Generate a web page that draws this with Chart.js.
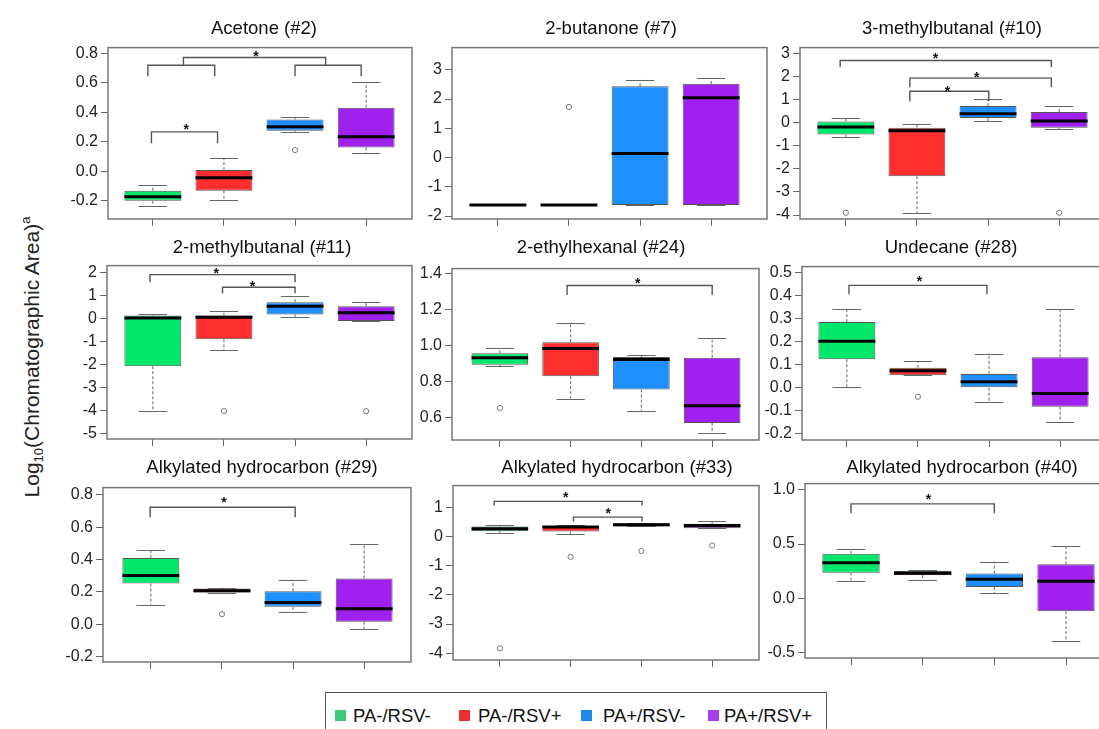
<!DOCTYPE html>
<html>
<head>
<meta charset="utf-8">
<script src="https://cdn.jsdelivr.net/npm/chart.js@4.4.0/dist/chart.umd.min.js"></script>
<style>
  body { margin: 0; width: 1099px; height: 729px; overflow: hidden; background: #fff; position: relative;
         font-family: Arial, "Liberation Sans", sans-serif; color: #111; }
  canvas { position: absolute; }
  .title { position: absolute; font-size: 18.5px; white-space: nowrap; transform: translate(-50%, -50%); }
  .ylab { position: absolute; left: 32px; top: 357px; font-size: 21px; white-space: nowrap;
          transform: translate(-50%, -50%) rotate(-90deg); color: #222; }
  .ylab sub { font-size: 13px; vertical-align: -4px; }
  .ylab sup { font-size: 13px; vertical-align: 9px; }
  .legend { position: absolute; left: 325px; top: 692px; width: 502px; height: 50px; border: 1px solid #555; box-sizing: border-box; }
  .sw { position: absolute; top: 17px; width: 11px; height: 11px; }
  .lt { position: absolute; top: 12px; font-size: 18.5px; line-height: 22px; white-space: nowrap; color: #111; }
</style>
</head>
<body>
<div class="ylab">Log<sub>10</sub>(Chromatographic Area)<sup>a</sup></div>
<div class="legend" id="legend"></div>
<script>
Chart.defaults.font.family = 'Arial, "Liberation Sans", sans-serif';

const groups = ['PA-/RSV-', 'PA-/RSV+', 'PA+/RSV-', 'PA+/RSV+'];
const titles = ['Acetone (#2)', '2-butanone (#7)', '3-methylbutanal (#10)',
  '2-methylbutanal (#11)', '2-ethylhexanal (#24)', 'Undecane (#28)',
  'Alkylated hydrocarbon (#29)', 'Alkylated hydrocarbon (#33)', 'Alkylated hydrocarbon (#40)'];

// per group: [lower whisker, Q1, median, Q3, upper whisker]
const acetone = [[-0.234, -0.200, -0.173, -0.132, -0.094], [-0.195, -0.132, -0.044, 0.008, 0.087],
  [0.268, 0.275, 0.302, 0.352, 0.370], [0.121, 0.162, 0.234, 0.431, 0.608]];
const butanone = [[-1.625, -1.625, -1.625, -1.625, -1.625], [-1.625, -1.625, -1.625, -1.625, -1.625],
  [-1.625, -1.625, 0.14, 2.44, 2.66], [-1.625, -1.625, 2.045, 2.52, 2.72]];
const methylbutanal3 = [[-0.62, -0.52, -0.19, 0.05, 0.21], [-3.9, -2.32, -0.36, -0.22, -0.08],
  [0.05, 0.20, 0.38, 0.71, 1.03], [-0.29, -0.23, 0.07, 0.46, 0.71]];
const methylbutanal2 = [[-4.03, -2.08, 0.01, 0.12, 0.17], [-1.39, -0.91, 0.05, 0.12, 0.30],
  [0.05, 0.17, 0.53, 0.70, 0.95], [-0.12, -0.12, 0.24, 0.53, 0.73]];
const ethylhexanal = [[0.886, 0.893, 0.932, 0.957, 0.985], [0.705, 0.829, 0.982, 1.018, 1.124],
  [0.637, 0.755, 0.921, 0.935, 0.945], [0.515, 0.570, 0.665, 0.932, 1.042]];
const undecane = [[0.004, 0.123, 0.201, 0.284, 0.339], [0.054, 0.054, 0.073, 0.086, 0.115],
  [-0.061, 0.0, 0.026, 0.060, 0.148], [-0.147, -0.082, -0.025, 0.132, 0.342]];
const hydrocarbon29 = [[0.122, 0.252, 0.301, 0.410, 0.457], [0.196, 0.196, 0.207, 0.221, 0.227],
  [0.073, 0.108, 0.135, 0.205, 0.276], [-0.032, 0.016, 0.096, 0.283, 0.494]];
const hydrocarbon33 = [[0.11, 0.18, 0.26, 0.34, 0.40], [0.09, 0.17, 0.32, 0.35, 0.375],
  [0.34, 0.34, 0.40, 0.45, 0.47], [0.28, 0.28, 0.375, 0.43, 0.52]];
const hydrocarbon40 = [[0.16, 0.236, 0.328, 0.41, 0.457], [0.166, 0.212, 0.23, 0.25, 0.26],
  [0.049, 0.104, 0.175, 0.227, 0.337], [-0.396, -0.12, 0.156, 0.313, 0.482]];

// outliers: [group position, value]
const acetoneOut = [[3, 0.144]];
const butanoneOut = [[2, 1.73]];
const methylbutanal3Out = [[1, -3.9], [4, -3.9]];
const methylbutanal2Out = [[2, -4.03], [4, -4.03]];
const ethylhexanalOut = [[1, 0.653]];
const undecaneOut = [[2, -0.039]];
const hydrocarbon29Out = [[2, 0.063]];
const hydrocarbon33Out = [[1, -3.83], [2, -0.70], [3, -0.50], [4, -0.31]];
const hydrocarbon40Out = [];

// significance brackets: [x from, x to, line y, end y, star x, star y]
const acetoneSig = [[0.93, 1.87, 0.72, 0.645], [3.0, 3.93, 0.72, 0.645],
  [1.43, 3.43, 0.773, 0.716, 2.45, 0.805], [0.98, 1.91, 0.268, 0.19, 1.47, 0.31]];
const butanoneSig = [];
const methylbutanal3Sig = [[0.92, 3.89, 2.68, 2.40, 2.26, 2.93], [1.90, 3.89, 1.92, 1.53, 2.84, 2.11],
  [1.90, 3.01, 1.35, 0.92, 2.43, 1.5]];
const methylbutanal2Sig = [[0.96, 3.0, 1.90, 1.57, 1.89, 2.1], [1.98, 3.0, 1.35, 1.09, 2.40, 1.54]];
const ethylhexanalSig = [[1.95, 4.0, 1.332, 1.28, 2.95, 1.365]];
const undecaneSig = [[1.03, 2.97, 0.443, 0.404, 2.02, 0.476]];
const hydrocarbon29Sig = [[0.99, 3.03, 0.724, 0.662, 2.03, 0.775]];
const hydrocarbon33Sig = [[0.92, 3.01, 1.20, 1.06, 1.93, 1.45], [2.04, 3.01, 0.66, 0.51, 2.53, 0.92]];
const hydrocarbon40Sig = [[1.0, 3.0, 0.871, 0.785, 2.08, 0.948]];

// y tick labels per panel
const tickLabels = [
  ['0.8', '0.6', '0.4', '0.2', '0.0', '-0.2'],
  ['3', '2', '1', '0', '-1', '-2'],
  ['3', '2', '1', '0', '-1', '-2', '-3', '-4'],
  ['2', '1', '0', '-1', '-2', '-3', '-4', '-5'],
  ['1.4', '1.2', '1.0', '0.8', '0.6'],
  ['0.5', '0.4', '0.3', '0.2', '0.1', '0.0', '-0.1', '-0.2'],
  ['0.8', '0.6', '0.4', '0.2', '0.0', '-0.2'],
  ['1', '0', '-1', '-2', '-3', '-4'],
  ['1.0', '0.5', '0.0', '-0.5']
];
const yRanges = [[-0.324, 0.84], [-2.10, 3.76], [-4.17, 3.24], [-5.24, 2.29], [0.475, 1.426],
  [-0.226, 0.524], [-0.233, 0.845], [-4.23, 1.74], [-0.552, 1.058]];

const stats = [acetone, butanone, methylbutanal3, methylbutanal2, ethylhexanal, undecane, hydrocarbon29, hydrocarbon33, hydrocarbon40];
const outs = [acetoneOut, butanoneOut, methylbutanal3Out, methylbutanal2Out, ethylhexanalOut, undecaneOut, hydrocarbon29Out, hydrocarbon33Out, hydrocarbon40Out];
const sigs = [acetoneSig, butanoneSig, methylbutanal3Sig, methylbutanal2Sig, ethylhexanalSig, undecaneSig, hydrocarbon29Sig, hydrocarbon33Sig, hydrocarbon40Sig];

// layout: plot frame [left, top, right, bottom, px of group 1, px of group 4]
const frames = [
  [108, 47, 413, 219, 153, 367], [452, 47, 768, 219, 498, 712], [800, 47, 1106, 219, 846, 1060],
  [107, 265, 413, 439, 153, 367], [452, 268, 760, 440, 500, 713], [802, 266, 1107, 440, 847, 1061],
  [103, 487, 412, 662, 151, 365], [453, 485, 760, 660, 500, 713], [805, 483, 1112, 658, 851, 1066]
];
const titlePos = [[264, 28], [611, 28], [952, 28], [262, 247], [601, 247], [951, 247], [262, 467], [617, 467], [962, 467]];

const boxColors = ['#00E86C', '#FF2E2E', '#1E8FFF', '#A020F0'];
const legendColors = ['#3CC97C', '#EC3030', '#1E88E8', '#A63FE8'];

const AXW = 62, PADT = 12, AXH = 16, PADR = 4;

function extras(st, sig) {
  return {
    id: 'boxExtras',
    afterDatasetsDraw(chart) {
      const { ctx, scales: { x, y } } = chart;
      ctx.save();
      st.forEach((s, i) => {
        const cx = x.getPixelForValue(i + 1);
        const cw = x.getPixelForValue(i + 1.2) - cx;
        ctx.strokeStyle = '#666';
        ctx.lineWidth = 1;
        // whiskers
        ctx.setLineDash([3, 2]);
        ctx.beginPath();
        if (s[4] > s[3]) { ctx.moveTo(cx, y.getPixelForValue(s[3])); ctx.lineTo(cx, y.getPixelForValue(s[4])); }
        if (s[0] < s[1]) { ctx.moveTo(cx, y.getPixelForValue(s[1])); ctx.lineTo(cx, y.getPixelForValue(s[0])); }
        ctx.stroke();
        ctx.setLineDash([]);
        ctx.beginPath();
        [s[0], s[4]].forEach(v => {
          const py = Math.round(y.getPixelForValue(v)) + 0.5;
          ctx.moveTo(cx - cw, py); ctx.lineTo(cx + cw, py);
        });
        ctx.stroke();
        // median
        const bw = x.getPixelForValue(i + 1.4) - cx;
        ctx.strokeStyle = '#000';
        ctx.lineWidth = 3;
        ctx.beginPath();
        ctx.moveTo(cx - bw, y.getPixelForValue(s[2]));
        ctx.lineTo(cx + bw, y.getPixelForValue(s[2]));
        ctx.stroke();
      });
      // brackets
      ctx.strokeStyle = '#555';
      ctx.lineWidth = 1.4;
      ctx.fillStyle = '#111';
      ctx.font = 'bold 14px Arial, "Liberation Sans", sans-serif';
      ctx.textAlign = 'center';
      ctx.textBaseline = 'alphabetic';
      sig.forEach(b => {
        const x1 = x.getPixelForValue(b[0]), x2 = x.getPixelForValue(b[1]);
        const yl = y.getPixelForValue(b[2]), ye = y.getPixelForValue(b[3]);
        ctx.beginPath();
        ctx.moveTo(x1, ye); ctx.lineTo(x1, yl); ctx.lineTo(x2, yl); ctx.lineTo(x2, ye);
        ctx.stroke();
        if (b.length > 4) ctx.fillText('*', x.getPixelForValue(b[4]), y.getPixelForValue(b[5]) + 8);
      });
      ctx.restore();
    },
    afterDraw(chart) {
      const { ctx, chartArea: a } = chart;
      ctx.save();
      ctx.strokeStyle = '#777';
      ctx.lineWidth = 1.5;
      ctx.strokeRect(a.left, a.top, a.right - a.left, a.bottom - a.top);
      ctx.restore();
    }
  };
}

for (let i = 0; i < 9; i++) {
  const [L, T, R, B, t1, t4] = frames[i];
  const unit = (t4 - t1) / 3;
  const xmin = 1 - (t1 - L) / unit, xmax = 4 + (R - t4) / unit;
  const labels = tickLabels[i];

  const cv = document.createElement('canvas');
  cv.width = R - L + AXW + PADR;
  cv.height = B - T + PADT + AXH;
  cv.style.left = (L - AXW) + 'px';
  cv.style.top = (T - PADT) + 'px';
  document.body.appendChild(cv);

  const t = document.createElement('div');
  t.className = 'title';
  t.textContent = titles[i];
  t.style.left = titlePos[i][0] + 'px';
  t.style.top = titlePos[i][1] + 'px';
  document.body.appendChild(t);

  new Chart(cv.getContext('2d'), {
    type: 'bar',
    data: {
      datasets: [{
        type: 'bar',
        data: stats[i].map((s, g) => ({ x: g + 1, y: [s[1], s[3]] })),
        backgroundColor: boxColors,
        borderColor: '#555',
        borderWidth: 1,
        borderSkipped: false,
        barPercentage: 1,
        categoryPercentage: 0.8
      }, {
        type: 'scatter',
        data: outs[i].map(o => ({ x: o[0], y: o[1] })),
        pointStyle: 'circle',
        radius: 2.6,
        backgroundColor: '#fff',
        borderColor: '#777',
        borderWidth: 1
      }]
    },
    options: {
      responsive: false,
      animation: false,
      layout: { padding: { top: PADT, right: PADR, left: 0, bottom: 0 } },
      plugins: { legend: { display: false }, tooltip: { enabled: false } },
      scales: {
        x: {
          type: 'linear',
          offset: false,
          min: xmin,
          max: xmax,
          afterBuildTicks: s => { s.ticks = [1, 2, 3, 4].map(v => ({ value: v })); },
          afterFit: s => { s.height = AXH; },
          ticks: { callback: () => '' },
          grid: { offset: false, drawOnChartArea: false, drawTicks: true, tickLength: 7, color: '#666' },
          border: { display: false }
        },
        y: {
          min: yRanges[i][0],
          max: yRanges[i][1],
          afterBuildTicks: s => { s.ticks = labels.map(l => ({ value: Number(l) })); },
          afterFit: s => { s.width = AXW; },
          ticks: {
            padding: 3,
            color: '#222',
            font: { size: 16 },
            callback: (v, idx) => labels[idx]
          },
          grid: { drawOnChartArea: false, drawTicks: true, tickLength: 7, color: '#666' },
          border: { display: false }
        }
      }
    },
    plugins: [extras(stats[i], sigs[i])]
  });
}

// legend
const lg = document.getElementById('legend');
const swX = [9, 133, 255, 382], txX = [27, 152, 277, 398];
groups.forEach((g, i) => {
  const s = document.createElement('div');
  s.className = 'sw';
  s.style.left = swX[i] + 'px';
  s.style.background = legendColors[i];
  lg.appendChild(s);
  const t = document.createElement('div');
  t.className = 'lt';
  t.style.left = txX[i] + 'px';
  t.textContent = g;
  lg.appendChild(t);
});
</script>
</body>
</html>
